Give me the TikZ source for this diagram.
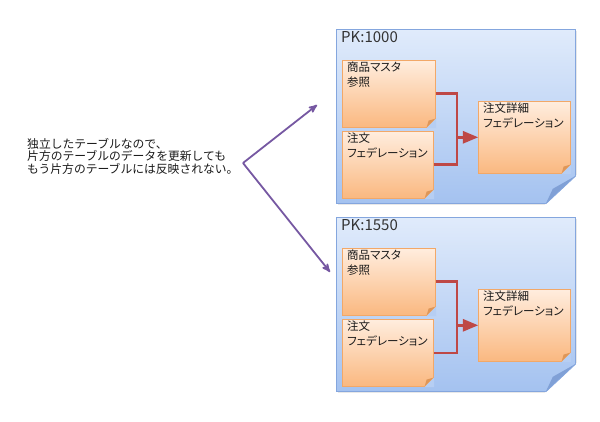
\documentclass[tikz,border=0pt]{standalone}
\usepackage{fontspec}
\setmainfont{Noto Sans CJK JP}
\newfontfamily\notefont[RawFeature=+palt]{Noto Sans CJK JP}
\usepackage{tikz}
\usetikzlibrary{arrows}
\usetikzlibrary{calc,shadows}

\definecolor{panelTop}{RGB}{224,235,251}
\definecolor{panelBot}{RGB}{164,194,240}
\definecolor{panelLine}{RGB}{132,166,222}
\definecolor{panelFold}{RGB}{128,160,214}
\definecolor{noteTop}{RGB}{255,237,222}
\definecolor{noteBot}{RGB}{250,184,128}
\definecolor{noteLine}{RGB}{242,168,104}
\definecolor{noteFold}{RGB}{222,150,88}
\definecolor{linkRed}{RGB}{190,72,70}
\definecolor{arrowPurple}{RGB}{118,88,162}

\tikzset{
  panel/.style = {anchor=north west, inner sep=0, minimum width=239pt, minimum height=174pt,
                  top color=panelTop, bottom color=panelBot, draw=panelLine, line width=.8pt,
                  drop shadow={opacity=.18, shadow xshift=1.5pt, shadow yshift=-1.5pt}},
  pktext/.style = {anchor=north west, inner xsep=5pt, inner ysep=2pt, text=black!80,
                   font=\fontsize{15}{15}\selectfont},
  note/.style = {anchor=north west, inner sep=0, top color=noteTop, bottom color=noteBot,
                 draw=noteLine, line width=.6pt,
                 drop shadow={opacity=.15, shadow xshift=1pt, shadow yshift=-1pt}},
  notetext/.style = {anchor=north west, align=left, inner xsep=5pt, inner ysep=2pt,
                     text=black!90, font=\notefont\fontsize{11.5}{14.5}\selectfont},
  link/.style = {linkRed, line width=2.6pt},
  pointer/.style = {arrowPurple, line width=1.8pt, ->, >=stealth'}
}

\begin{document}
\begin{tikzpicture}[x=1pt, y=-1pt]
\useasboundingbox (0,0) rectangle (600,422);

\node[anchor=north west, inner sep=0, align=left, text=black!90,
      font=\fontsize{11.8}{12.6}\selectfont] (msg) at (27,138)
  {独立したテーブルなので、\\片方のテーブルのデータを更新しても\\もう片方のテーブルには反映されない。};

\foreach \p/\dy/\pk in {a/0/1000, b/188/1550} {
  \begin{scope}[shift={(0,\dy)}]
  \node[panel, label={[pktext]north west:{PK:\pk}}] (\p) at (336,29) {};
  % folded corner of the panel
  \fill[white] ($(\p.south east)+(-31,1)$) -- ($(\p.south east)+(1,1)$) -- ($(\p.south east)+(1,-29)$) -- cycle;
  \fill[panelFold] ($(\p.south east)+(-30,0)$) -- ($(\p.south east)+(-23,-15)$) -- ($(\p.south east)+(0,-28)$) -- cycle;
  \draw[panelLine, line width=.8pt] ($(\p.south east)+(-30,0)$) -- ($(\p.south east)+(0,-28)$);

  \node[note, minimum width=93pt, minimum height=67pt,
        label={[notetext]north west:{商品マスタ\\参照}}] (\p1) at (342,60) {};
  \node[note, minimum width=91pt, minimum height=67pt,
        label={[notetext]north west:{注文\\フェデレーション}}] (\p2) at (342,131) {};
  \node[note, minimum width=92pt, minimum height=72pt,
        label={[notetext]north west:{注文詳細\\フェデレーション}}] (\p3) at (478,101) {};
  \end{scope}

  % curled corners of the notes
  \foreach \n in {\p1,\p2,\p3} {
    \fill[panelBot!70!panelTop] ($(\n.south east)+(-9,.5)$) -- ($(\n.south east)+(.5,.5)$) -- ($(\n.south east)+(.5,-9)$) -- cycle;
    \fill[noteFold] ($(\n.south east)+(-9,0)$) -- ($(\n.south east)+(-7,-7)$) -- ($(\n.south east)+(0,-9)$) -- cycle;
  }

  \coordinate (\p-join) at ($(\p1.east)!.5!(\p3.west)$);
  \draw[link] (\p1.east) -| (\p-join |- \p2.east) -- (\p2.east);
  \draw[link, -triangle 45] (\p-join |- \p3.west) -- (\p3.west);
}

\coordinate (bend) at (243,163);
\coordinate (toA) at (317,105);
\coordinate (toB) at (330,272);
\draw[pointer] (bend) -- (toA);
\draw[pointer] (bend) -- (toB);
\end{tikzpicture}
\end{document}
